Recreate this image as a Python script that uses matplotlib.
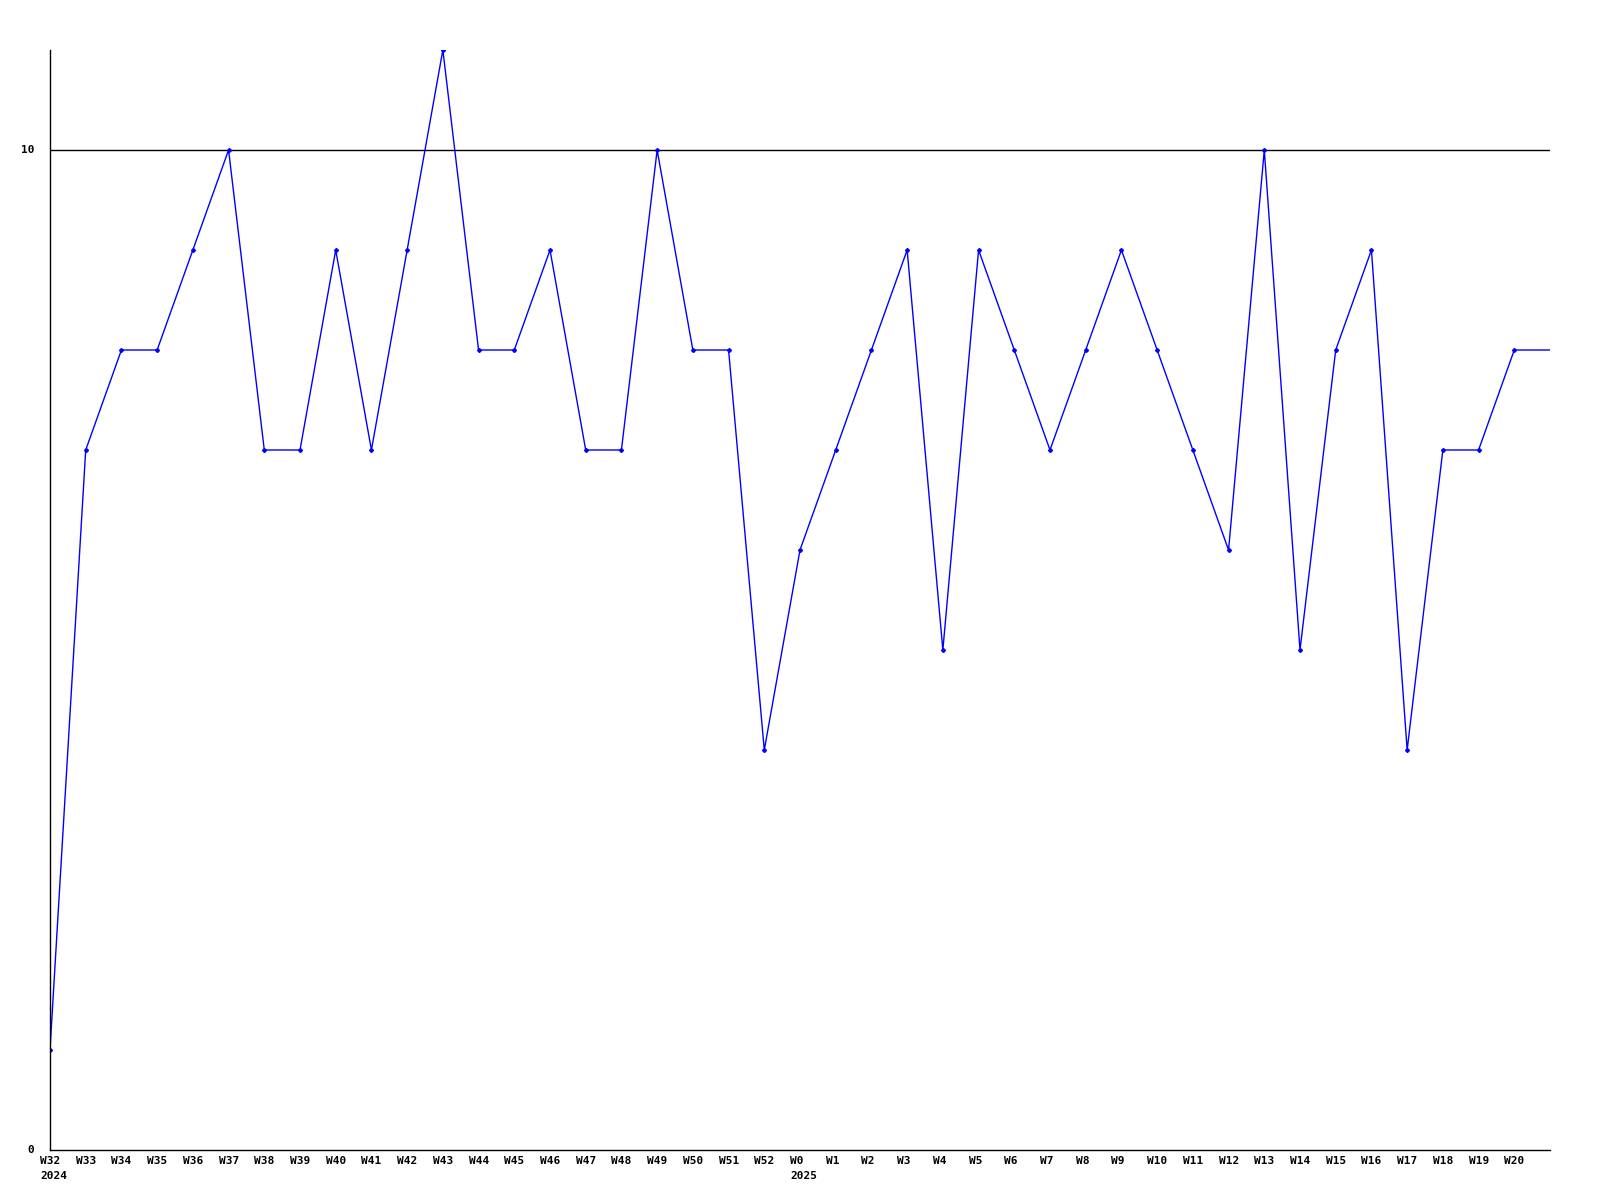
import matplotlib
matplotlib.use("Agg")
import matplotlib.pyplot as plt

weeks = ["W32", "W33", "W34", "W35", "W36", "W37", "W38", "W39", "W40", "W41",
         "W42", "W43", "W44", "W45", "W46", "W47", "W48", "W49", "W50", "W51",
         "W52", "W0", "W1", "W2", "W3", "W4", "W5", "W6", "W7", "W8",
         "W9", "W10", "W11", "W12", "W13", "W14", "W15", "W16", "W17", "W18",
         "W19", "W20", ""]
years = {0: "2024", 21: "2025"}
values = [1, 7, 8, 8, 9, 10, 7, 7, 9, 7,
          9, 11, 8, 8, 9, 7, 7, 10, 8, 8,
          4, 6, 7, 8, 9, 5, 9, 8, 7, 8,
          9, 8, 7, 6, 10, 5, 8, 9, 4, 7,
          7, 8, 8]
y_ticks = [0, 10]

fig = plt.figure(figsize=(16, 12), dpi=100)
ax = fig.add_axes([50 / 1600, 50 / 1200, 1500 / 1600, 1100 / 1200])

xs = list(range(len(values)))
ax.axhline(10, color="black", lw=1, zorder=1)
ax.plot(xs, values, color="#0000ff", lw=1, marker="D", markersize=2,
        markevery=list(range(len(values) - 1)), zorder=2)

ax.set_xlim(0, len(values) - 1)
ax.set_ylim(0, 11)
for s in ["top", "right"]:
    ax.spines[s].set_visible(False)
for s in ["left", "bottom"]:
    ax.spines[s].set_linewidth(1)
ax.set_xticks([])
ax.set_yticks([])

font = dict(family="DejaVu Sans Mono", fontweight="bold", fontsize=8)
for v in y_ticks:
    ax.annotate(str(v), xy=(0, v), xycoords=("axes fraction", "data"),
                xytext=(-16, 0), textcoords="offset pixels",
                ha="right", va="center", **font)
for i, w in enumerate(weeks):
    if not w:
        continue
    ax.annotate(w, xy=(i, 0), xycoords=("data", "axes fraction"),
                xytext=(-10, -6), textcoords="offset pixels",
                ha="left", va="top", **font)
    if i in years:
        ax.annotate(years[i], xy=(i, 0), xycoords=("data", "axes fraction"),
                    xytext=(-10, -21), textcoords="offset pixels",
                    ha="left", va="top", **font)

fig.savefig("out.png", dpi=100)
